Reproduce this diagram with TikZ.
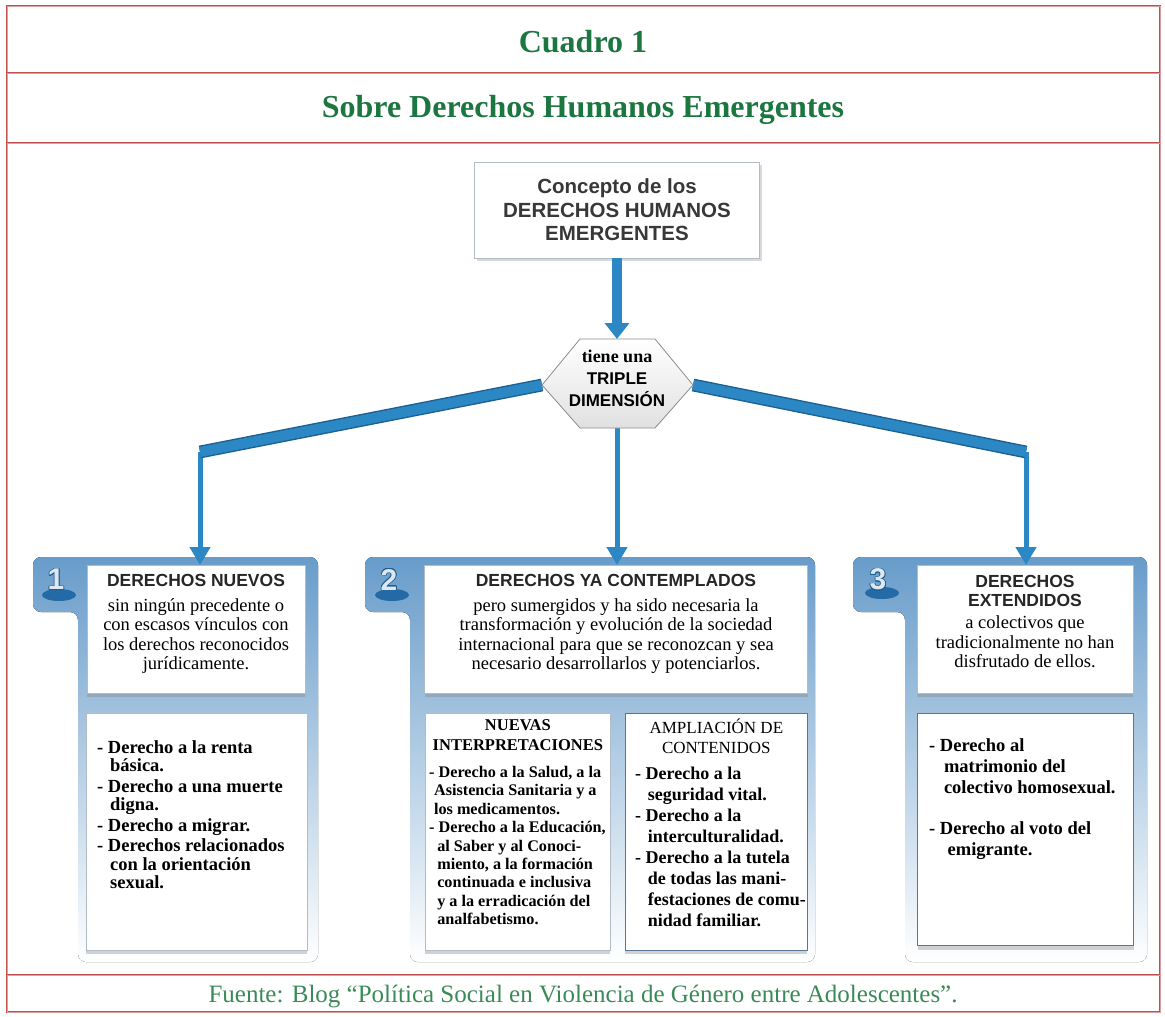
\documentclass[tikz,border=0pt]{standalone}
\usepackage{fontspec}
\setmainfont{Liberation Serif}
\setsansfont{Liberation Sans}
\usepackage{tikz}
\usepackage[copies]{contour}
\contourlength{0.7pt}
\usetikzlibrary{arrows.meta,positioning,shadows}

\definecolor{framered}{RGB}{192,80,77}
\definecolor{titlegreen}{RGB}{28,118,64}
\definecolor{notegreen}{RGB}{58,138,88}
\definecolor{barblue}{RGB}{44,136,196}
\definecolor{bardark}{RGB}{28,96,146}
\definecolor{panelblue}{RGB}{104,156,202}
\definecolor{diskblue}{RGB}{36,106,166}
\definecolor{silver}{RGB}{222,230,238}
\definecolor{boxline}{RGB}{178,188,198}
\definecolor{edgeblue}{RGB}{88,118,150}

\tikzset{
  rowline/.style={draw=framered,line width=1pt,double=framered!55,double distance=0.7pt},
  cuadrotitle/.style={font=\bfseries\fontsize{32}{34}\selectfont,text=titlegreen},
  source/.style={font=\fontsize{25}{27}\selectfont,text=notegreen},
  panel/.style={rounded corners=8pt,top color=panelblue,bottom color=white},
  disk/.style={fill=diskblue},
  numeral/.style={font=\sffamily\bfseries\fontsize{30}{30}\selectfont,text=silver},
  whitebox/.style={draw=boxline,fill=white,line width=0.7pt,inner sep=0pt,
    drop shadow={shadow xshift=0pt,shadow yshift=-4pt,opacity=0.35}},
  headbox/.style={whitebox,anchor=north,minimum height=128pt},
  listbox/.style={whitebox,anchor=north west,minimum height=237pt},
  headtitle/.style={inner sep=0pt,align=center,font=\sffamily\bfseries\fontsize{17.5}{19}\selectfont,text=black!85},
  headtext/.style={inner sep=0pt,align=center,font=\fontsize{18.5}{19.5}\selectfont},
  listhead/.style={inner sep=0pt,align=center,font=\bfseries\fontsize{16.5}{20}\selectfont},
  listtext/.style={inner sep=0pt,anchor=north west,align=left,font=\bfseries\fontsize{18.5}{18.5}\selectfont},
  conceptbox/.style={draw=boxline,fill=white,line width=0.7pt,minimum width=285pt,minimum height=96pt,
    align=center,font=\sffamily\bfseries\fontsize{20.5}{23.5}\selectfont,text=black!78,
    drop shadow={shadow xshift=2pt,shadow yshift=-3pt,opacity=0.3}},
  hexagon/.style={draw=black!45,line width=0.8pt,top color=white,bottom color=black!12},
  dimension/.style={align=center,inner sep=0pt,font=\bfseries\fontsize{18}{22}\selectfont},
  bar/.style={draw=bardark,line width=1.4pt,double=barblue,double distance=10pt},
  trunk/.style={draw=barblue,line width=10pt,-{Triangle[width=24pt,length=16pt]}},
  link/.style={draw=barblue,line width=5pt,-{Triangle[width=20pt,length=18pt]}},
}

\begin{document}
\begin{tikzpicture}[x=1pt,y=-1pt]
\useasboundingbox (0,0) rectangle (1165,1017);

% frame of the table
\draw[rowline] (7,6) rectangle (1160,1012);
\draw[rowline] (7,73) -- (1160,73);
\draw[rowline] (7,143) -- (1160,143);
\draw[rowline] (7,975) -- (1160,975);
\node (cuadro) [cuadrotitle] at (583,42) {Cuadro 1};
\node (tema) [cuadrotitle] at (583,110) {Sobre Derechos Humanos Emergentes};
\node (fuente) [source] at (583,996) {Fuente: Blog “Política Social en Violencia de Género entre Adolescentes”.};

% blue panels with their tabs
\fill[panel] (33,612) -- (33,557) -- (318,557) -- (318,962) -- (78,962) -- (78,612) -- cycle;
\fill[panel] (365,612) -- (365,557) -- (815,557) -- (815,962) -- (410,962) -- (410,612) -- cycle;
\fill[panel] (853,612) -- (853,557) -- (1147,557) -- (1147,962) -- (905,962) -- (905,612) -- cycle;
\fill[disk] (59,595) ellipse (17pt and 6pt);
\node (one) [numeral] at (56,580) {\contour{bardark}{1}};
\fill[disk] (392,595) ellipse (17pt and 6pt);
\node (two) [numeral] at (389,580) {\contour{bardark}{2}};
\fill[disk] (882,593) ellipse (17pt and 6pt);
\node (three) [numeral] at (878,580) {\contour{bardark}{3}};

% panel 1
\node (newrights) [headbox,minimum width=218pt] at (196,565) {};
\node (newtitle) [headtitle] at (196,580) {DERECHOS NUEVOS};
\node (newtext) [headtext,below=12pt of newtitle] {sin ningún precedente o\\ con escasos vínculos con\\ los derechos reconocidos\\ jurídicamente.};
\node (newlist) [listbox,minimum width=221pt] at (86,713) {};
\node (newitems) [listtext,below right=27pt and 11pt of newlist.north west] {- Derecho a la renta\\
  \hspace*{0.7em}básica.\\[2pt]
  - Derecho a una muerte\\
  \hspace*{0.7em}digna.\\[2pt]
  - Derecho a migrar.\\[2pt]
  - Derechos relacionados\\
  \hspace*{0.7em}con la orientación\\
  \hspace*{0.7em}sexual.};

% panel 2
\node (contemplated) [headbox,minimum width=383pt] at (616,565) {};
\node (contitle) [headtitle] at (616,580) {DERECHOS YA CONTEMPLADOS};
\node (context) [headtext,below=12pt of contitle] {pero sumergidos y ha sido necesaria la\\ transformación y evolución de la sociedad\\ internacional para que se reconozcan y sea\\ necesario desarrollarlos y potenciarlos.};
\node (interp) [listbox,minimum width=185pt] at (425,713) {};
\node (interphead) [listhead,below=6pt of interp.north] {NUEVAS\\ INTERPRETACIONES};
\node (interpitems) [listtext,font=\bfseries\fontsize{16.2}{18.4}\selectfont,below right=53pt and 4pt of interp.north west] {- Derecho a la Salud, a la\\
  \hspace*{0.3em}Asistencia Sanitaria y a\\
  \hspace*{0.3em}los medicamentos.\\
  - Derecho a la Educación,\\
  \hspace*{0.5em}al Saber y al Conoci-\\
  \hspace*{0.5em}miento, a la formación\\
  \hspace*{0.5em}continuada e inclusiva\\
  \hspace*{0.5em}y a la erradicación del\\
  \hspace*{0.5em}analfabetismo.};
\node (ampl) [listbox,draw=edgeblue,minimum width=182pt] at (625,713) {};
\node (amplhead) [listhead,font=\fontsize{17}{20}\selectfont,below=6pt of ampl.north] {AMPLIACIÓN DE\\ CONTENIDOS};
\node (amplitems) [listtext,font=\bfseries\fontsize{18}{21}\selectfont,below right=54pt and 10pt of ampl.north west] {- Derecho a la\\
  \hspace*{0.7em}seguridad vital.\\
  - Derecho a la\\
  \hspace*{0.7em}interculturalidad.\\
  - Derecho a la tutela\\
  \hspace*{0.7em}de todas las mani-\\
  \hspace*{0.7em}festaciones de comu-\\
  \hspace*{0.7em}nidad familiar.};

% panel 3
\node (extended) [headbox,minimum width=216pt] at (1025,565) {};
\node (exttitle) [headtitle] at (1025,591) {DERECHOS\\ EXTENDIDOS};
\node (exttext) [headtext,below=9pt of exttitle] {a colectivos que\\ tradicionalmente no han\\ disfrutado de ellos.};
\node (extlist) [listbox,draw=edgeblue,line width=1.4pt,minimum width=216pt,minimum height=232pt] at (917,713) {};
\node (extitems) [listtext,font=\bfseries\fontsize{18.5}{21}\selectfont,below right=25pt and 12pt of extlist.north west] {- Derecho al\\
  \hspace*{0.8em}matrimonio del\\
  \hspace*{0.8em}colectivo homosexual.\\[20pt]
  - Derecho al voto del\\
  \hspace*{1em}emigrante.};

% concept and the triple dimension
\coordinate (hexL) at (542,385);
\coordinate (hexR) at (693,385);
\coordinate (hexT) at (617,339);
\coordinate (hexB) at (617,428);
\coordinate (leftbend) at (200,452);
\coordinate (rightbend) at (1026,452);

\draw[link] (leftbend) -- (leftbend |- newrights.north);
\draw[link] (hexB) -- (hexB |- contemplated.north);
\draw[link] (rightbend) -- (rightbend |- extended.north);
\draw[bar] (hexL) -- (leftbend);
\draw[bar] (hexR) -- (rightbend);

\draw[hexagon] (hexL) -- (580,339) -- (655,339) -- (hexR) -- (655,428) -- (580,428) -- cycle;
\node (triple) [dimension] at (617,378) {tiene una\\ {\sffamily\fontsize{17}{22}\selectfont TRIPLE}\\ {\sffamily\fontsize{17}{22}\selectfont DIMENSIÓN}};

\node (concept) [conceptbox] at (617,210) {Concepto de los\\ DERECHOS HUMANOS\\ EMERGENTES};
\draw[trunk] (concept) -- (hexT);
\end{tikzpicture}
\end{document}
